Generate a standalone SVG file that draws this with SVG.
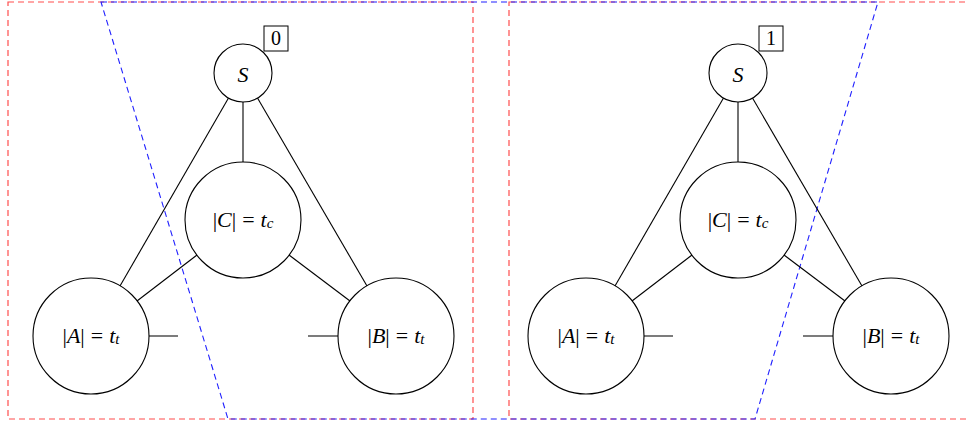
<svg xmlns="http://www.w3.org/2000/svg" width="967" height="426" viewBox="0 0 967 426">
<style>
.n{fill:#fff;stroke:#000;stroke-width:1.1}
.e{stroke:#000;stroke-width:1.1;fill:none}
.s{stroke:#444;stroke-width:1.4;fill:none}
.r{fill:none;stroke:#ff4d4d;stroke-width:1.2;stroke-dasharray:6,4}
.b{fill:none;stroke:#2020ff;stroke-width:1.1;stroke-dasharray:6,4}
text{font-family:'Liberation Serif','DejaVu Serif','Times New Roman',serif;font-size:22px;text-anchor:middle;dominant-baseline:central;fill:#000}
.i{font-style:italic}
.sub{font-size:15px;font-style:italic}
.lb{fill:#fff;stroke:#000;stroke-width:1}
</style>
<g id="regions">
<rect class="r" x="8" y="2" width="465" height="417"/>
<rect class="r" x="509" y="2" width="470" height="417"/>
<polygon class="b" points="101,2 878,2 755,419 228,419"/>
</g>
<g id="connectors">
<line class="e" x1="243" y1="102" x2="243" y2="162"/>
<line class="e" x1="228.5" y1="98" x2="120" y2="286"/>
<line class="e" x1="257.5" y1="98" x2="367" y2="286"/>
<line class="e" x1="197" y1="255" x2="137" y2="301"/>
<line class="e" x1="289" y1="255" x2="350" y2="301"/>
<line class="s" x1="149" y1="336" x2="178" y2="336"/>
<line class="s" x1="308" y1="336" x2="338" y2="336"/>
<line class="e" x1="738" y1="102" x2="738" y2="162"/>
<line class="e" x1="723.5" y1="98" x2="615" y2="286"/>
<line class="e" x1="752.5" y1="98" x2="862" y2="286"/>
<line class="e" x1="692" y1="255" x2="632" y2="301"/>
<line class="e" x1="784" y1="255" x2="845" y2="301"/>
<line class="s" x1="644" y1="336" x2="673" y2="336"/>
<line class="s" x1="803" y1="336" x2="833" y2="336"/>
</g>
<g id="S0">
<circle class="n" cx="243" cy="73" r="29"/>
<text class="i" x="243" y="74">S</text>
</g>
<g id="label0">
<rect class="lb" x="264" y="26" width="24" height="25"/>
<text x="276" y="38" style="font-size:20px">0</text>
</g>
<g id="C0">
<circle class="n" cx="243" cy="220" r="58"/>
<text x="243" y="219">|<tspan class="i">C</tspan>|<tspan dx="6">=</tspan><tspan class="i" dx="6">t</tspan><tspan class="sub" dy="4">c</tspan></text>
</g>
<g id="A0">
<circle class="n" cx="91" cy="336" r="58"/>
<text x="91" y="335">|<tspan class="i">A</tspan>|<tspan dx="6">=</tspan><tspan class="i" dx="6">t</tspan><tspan class="sub" dy="4">t</tspan></text>
</g>
<g id="B0">
<circle class="n" cx="396" cy="336" r="58"/>
<text x="396" y="335">|<tspan class="i">B</tspan>|<tspan dx="6">=</tspan><tspan class="i" dx="6">t</tspan><tspan class="sub" dy="4">t</tspan></text>
</g>
<g id="S1">
<circle class="n" cx="738" cy="73" r="29"/>
<text class="i" x="738" y="74">S</text>
</g>
<g id="label1">
<rect class="lb" x="759" y="26" width="24" height="25"/>
<text x="771" y="38" style="font-size:20px">1</text>
</g>
<g id="C1">
<circle class="n" cx="738" cy="220" r="58"/>
<text x="738" y="219">|<tspan class="i">C</tspan>|<tspan dx="6">=</tspan><tspan class="i" dx="6">t</tspan><tspan class="sub" dy="4">c</tspan></text>
</g>
<g id="A1">
<circle class="n" cx="586" cy="336" r="58"/>
<text x="586" y="335">|<tspan class="i">A</tspan>|<tspan dx="6">=</tspan><tspan class="i" dx="6">t</tspan><tspan class="sub" dy="4">t</tspan></text>
</g>
<g id="B1">
<circle class="n" cx="891" cy="336" r="58"/>
<text x="891" y="335">|<tspan class="i">B</tspan>|<tspan dx="6">=</tspan><tspan class="i" dx="6">t</tspan><tspan class="sub" dy="4">t</tspan></text>
</g>
</svg>
